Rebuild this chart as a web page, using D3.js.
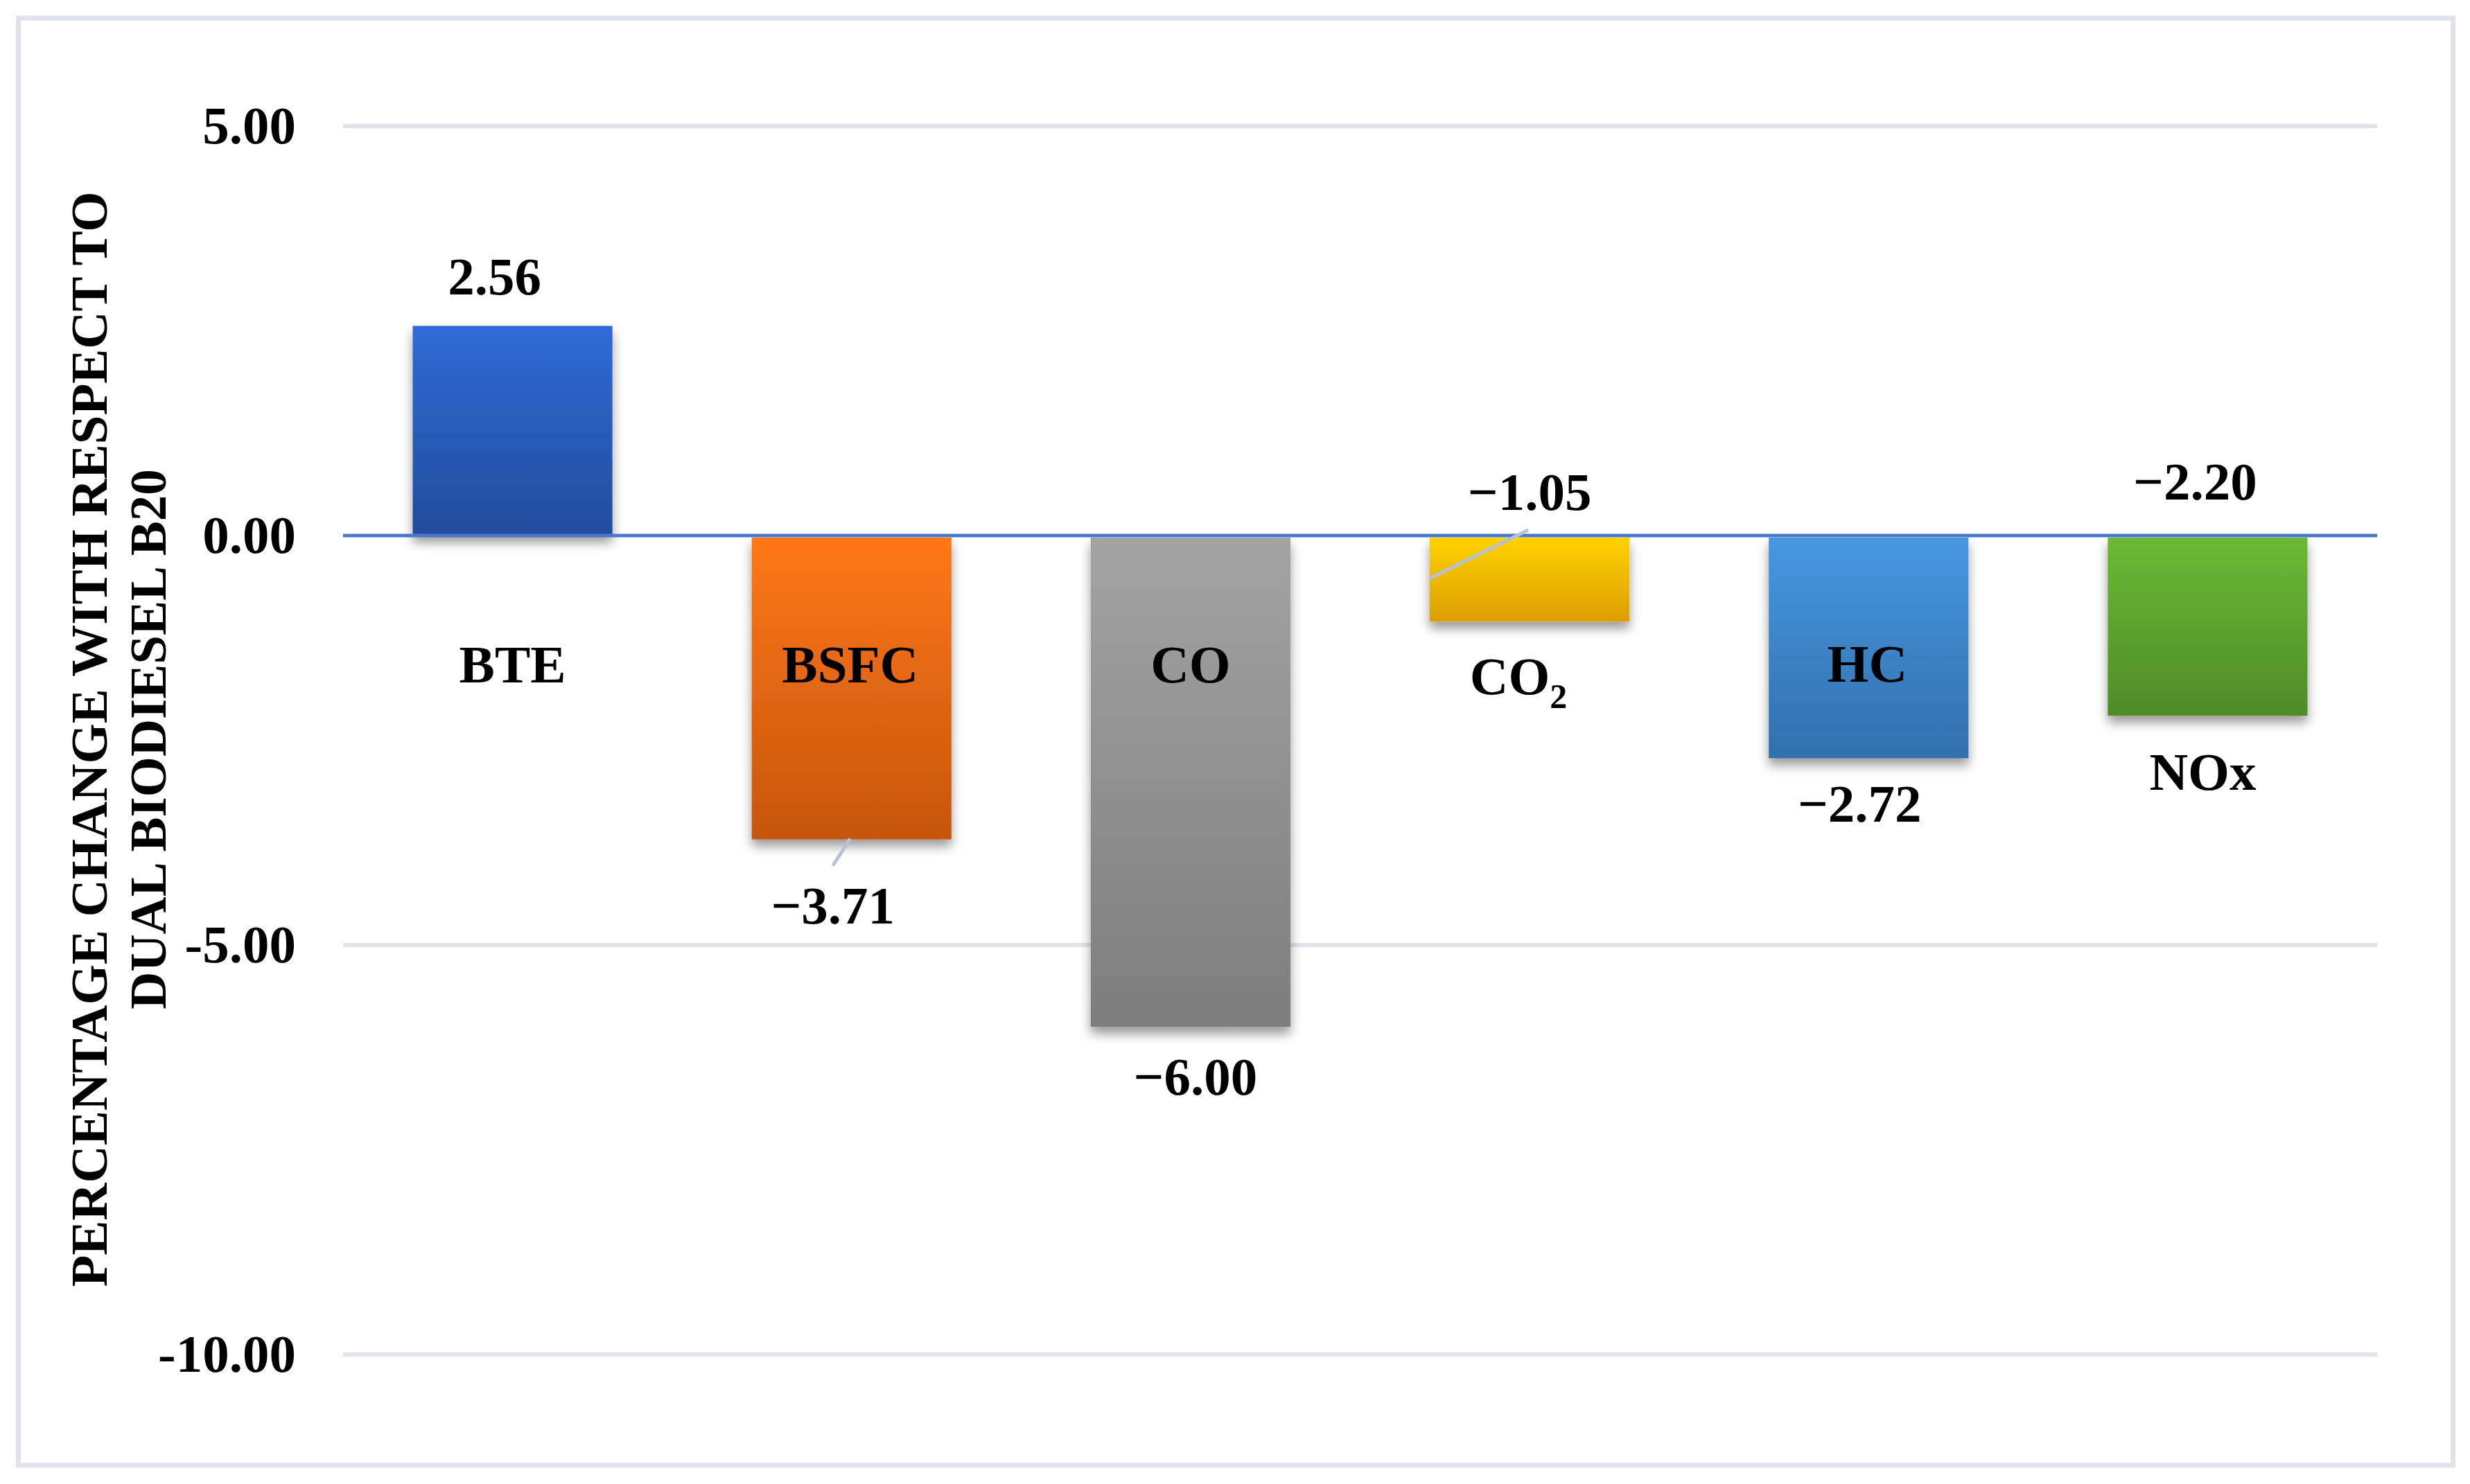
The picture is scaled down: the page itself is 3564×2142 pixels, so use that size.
<!DOCTYPE html>
<html>
<head>
<meta charset="utf-8">
<title>Percentage change</title>
<script src="https://cdn.jsdelivr.net/npm/d3@7/dist/d3.min.js"></script>
<style>
  body { margin: 0; background: #fff; }
  text { font-family: "Liberation Serif", "Times New Roman", serif; font-weight: bold; fill: #000; }
</style>
</head>
<body>
<div id="chart"></div>
<script>
// data
var categories = ["BTE", "BSFC", "CO", "CO2", "HC", "NOx"];
var values = [2.56, -3.71, -6.00, -1.05, -2.72, -2.20];
var yTicks = [-10, -5, 0, 5];

// bar gradient colours (top, bottom)
var topColors = ["#2f6bd6", "#fe7716", "#a3a3a3", "#ffd200", "#4797e0", "#6bba35"];
var bottomColors = ["#224c9c", "#c6560e", "#7d7d7d", "#dc9e00", "#3170ad", "#4e8c28"];

// label placement (px), tuned to the picture
var catLabelDy = [212, 212, 212, 229, 211, 367];   // below the zero line
var catLabelDx = [0, -2, 0, -16, -2, -7];
var valLabelDx = [-26, -27, 7, 0, -13, -18];

var W = 3564, H = 2142;
var svg = d3.select("#chart").append("svg")
    .attr("width", W).attr("height", H);

var defs = svg.append("defs");
var f = defs.append("filter").attr("id", "shadow")
    .attr("x", "-20%").attr("y", "-20%").attr("width", "140%").attr("height", "140%");
f.append("feDropShadow").attr("dx", 0).attr("dy", 10).attr("stdDeviation", 8)
    .attr("flood-color", "#000").attr("flood-opacity", 0.4);

categories.forEach(function (c, i) {
    var g = defs.append("linearGradient").attr("id", "grad" + i)
        .attr("x1", 0).attr("y1", 0).attr("x2", 0).attr("y2", 1);
    g.append("stop").attr("offset", "0%").attr("stop-color", topColors[i]);
    g.append("stop").attr("offset", "100%").attr("stop-color", bottomColors[i]);
});

// outer frame
svg.append("rect")
    .attr("x", 26.5).attr("y", 26).attr("width", 3513).attr("height", 2089)
    .attr("fill", "none").attr("stroke", "#dee2ea").attr("stroke-width", 7);

var left = 495, right = 3430;
var x = d3.scaleBand().domain(categories).range([left, right])
    .paddingInner(0.411).paddingOuter(0.2055);
var y = d3.scaleLinear().domain([-10, 5]).range([1955, 182]);

// gridlines
svg.append("g").selectAll("line").data(yTicks.filter(function (d) { return d !== 0; }))
    .enter().append("line")
    .attr("x1", left).attr("x2", right)
    .attr("y1", function (d) { return y(d); }).attr("y2", function (d) { return y(d); })
    .attr("stroke", "#dfe3eb").attr("stroke-width", 6);

// y axis labels
var yAxis = d3.axisLeft(y).tickValues(yTicks).tickSize(0).tickPadding(0)
    .tickFormat(function (d) { return d.toFixed(2); });
var ga = svg.append("g").attr("transform", "translate(427,0)").call(yAxis);
ga.select(".domain").remove();
ga.selectAll("text").attr("font-size", 77).attr("font-family", null).attr("fill", "#000");

// bars
var zero = y(0);
svg.append("g").selectAll("rect").data(values).enter().append("rect")
    .attr("x", function (d, i) { return x(categories[i]); })
    .attr("width", x.bandwidth())
    .attr("y", function (d) { return d >= 0 ? y(d) : zero + 3; })
    .attr("height", function (d) { return d >= 0 ? zero - y(d) : y(d) - zero - 3; })
    .attr("fill", function (d, i) { return "url(#grad" + i + ")"; })
    .attr("filter", "url(#shadow)");

// zero line
svg.append("line").attr("x1", left).attr("x2", right)
    .attr("y1", zero).attr("y2", zero)
    .attr("stroke", "#4a78c8").attr("stroke-width", 5);

// leader lines for BSFC and CO2 labels
var cx = function (i) { return x(categories[i]) + x.bandwidth() / 2; };
svg.append("line")
    .attr("x1", cx(1) - 2).attr("y1", y(values[1]) - 1)
    .attr("x2", cx(1) - 27).attr("y2", y(values[1]) + 38)
    .attr("stroke", "#b6c2d2").attr("stroke-width", 5);
svg.append("line")
    .attr("x1", x(categories[3])).attr("y1", y(values[3]) - 62)
    .attr("x2", cx(3) - 2).attr("y2", zero - 8)
    .attr("stroke", "#b6c2d2").attr("stroke-width", 5);

// value labels
var fmt = function (d) { return d < 0 ? "\u2212" + Math.abs(d).toFixed(2) : d.toFixed(2); };
var valY = function (d, i) {
    if (i === 0) return y(d) - 45;
    if (i === 1) return y(d) + 121;
    if (i === 3) return zero - 37;
    if (i === 5) return zero - 52;
    return y(d) + (i === 2 ? 98 : 91);
};
svg.append("g").selectAll("text").data(values).enter().append("text")
    .attr("x", function (d, i) { return cx(i) + valLabelDx[i]; })
    .attr("y", valY)
    .attr("text-anchor", "middle").attr("font-size", 77)
    .text(fmt);

// category labels
var cl = svg.append("g").selectAll("text").data(categories).enter().append("text")
    .attr("x", function (d, i) { return cx(i) + catLabelDx[i]; })
    .attr("y", function (d, i) { return zero + catLabelDy[i]; })
    .attr("text-anchor", "middle").attr("font-size", 77);
cl.each(function (d) {
    var t = d3.select(this);
    if (d === "CO2") {
        t.append("tspan").text("CO");
        t.append("tspan").attr("font-size", 50).attr("dy", 20).text("2");
    } else {
        t.text(d);
    }
});

// y axis title
var title = svg.append("text")
    .attr("transform", "translate(154,1067) rotate(-90)")
    .attr("text-anchor", "middle").attr("font-size", 75);
title.append("tspan").attr("x", 0).attr("y", 0).text("PERCENTAGE CHANGE WITH RESPECT TO");
title.append("tspan").attr("x", 0).attr("y", 85).text("DUAL BIODIESEL B20");
</script>
</body>
</html>
